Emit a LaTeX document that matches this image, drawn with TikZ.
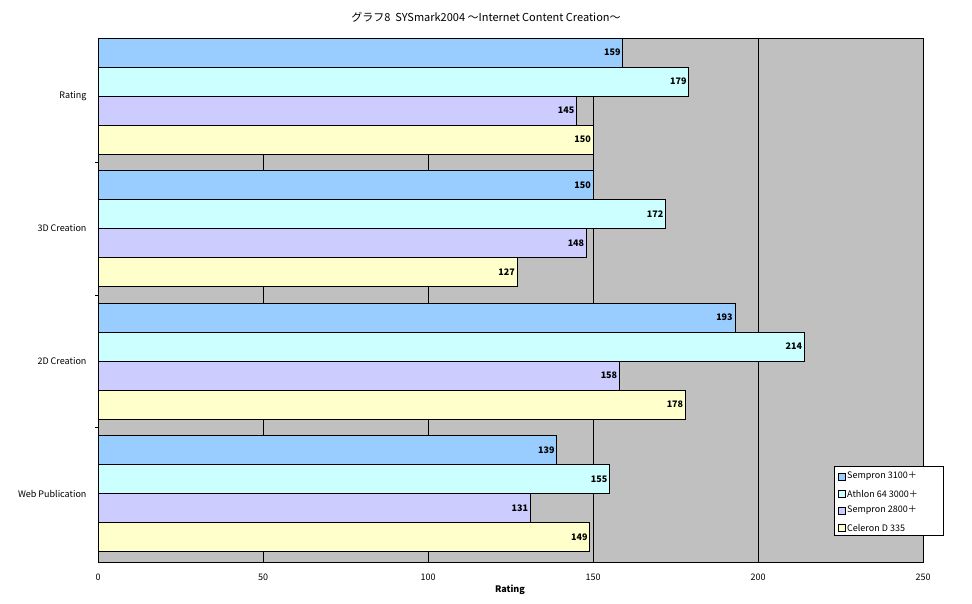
\documentclass[tikz,border=0pt]{standalone}
\usepackage{fontspec}
\setmainfont{Noto Sans CJK JP}
\usetikzlibrary{positioning}
\definecolor{cA}{HTML}{99CCFF}
\definecolor{cB}{HTML}{CCFFFF}
\definecolor{cC}{HTML}{CCCCFF}
\definecolor{cD}{HTML}{FFFFCC}
\definecolor{plotbg}{HTML}{C0C0C0}
\tikzset{
  bar/.style={draw=black, line width=0.6pt},
  val/.style={font=\fontsize{9}{10}\selectfont\bfseries, anchor=east, inner sep=2pt},
  cat/.style={font=\fontsize{9}{10}\selectfont, anchor=east},
  tick/.style={font=\fontsize{9}{10}\selectfont, anchor=north},
  key/.style={font=\fontsize{9}{10}\selectfont, anchor=west, inner sep=1pt}
}
\begin{document}
\begin{tikzpicture}[x=1pt,y=-1pt]
	\useasboundingbox[fill=white] (0,0) rectangle (972,604);

	\fill[plotbg] (98,38) rectangle (923,562);
	\foreach \v in {50,100,150,200}
		\draw[line width=0.8pt] (98+3.3*\v,38) -- (98+3.3*\v,562);
	\draw (98,38) rectangle (923,562);

	\node[font=\fontsize{11}{13}\selectfont] (title) at (486,17) {グラフ8\ \ SYSmark2004 〜Internet Content Creation〜};

	% bars
	\foreach \g/\name/\a/\b/\c/\d in {0/Rating/159/179/145/150, 1/3D Creation/150/172/148/127,
		2/2D Creation/193/214/158/178, 3/Web Publication/139/155/131/149} {
		\pgfmathsetmacro{\top}{38+132.5*\g}
		\foreach \k/\v/\col in {0/\a/cA, 1/\b/cB, 2/\c/cC, 3/\d/cD} {
			\draw[bar, fill=\col] (98,\top+29*\k) rectangle (98+3.3*\v,\top+29*\k+29);
			\node[val] at (98+3.3*\v,\top+29*\k+14.5) {\v};
		}
		\node[cat] (cat\g) at (90,\top+58) {\name};
	}
	\foreach \g in {1,2,3}
		\draw (95,38+132.5*\g-8) -- (98,38+132.5*\g-8);

	% axis
	\foreach \v in {0,50,...,250}
		\node[tick] at (98+3.3*\v,570) {\v};
	\node[font=\fontsize{9}{10}\selectfont\bfseries] (xlabel) at (510,590) {Rating};

	% legend
	\draw[fill=white] (834,466) rectangle (943,535);
	\foreach \k/\txt/\col in {0/Sempron 3100＋/cA, 1/Athlon 64 3000＋/cB, 2/Sempron 2800＋/cC, 3/Celeron D 335/cD} {
		\draw[fill=\col] (838,473+17*\k) rectangle (845,480+17*\k);
		\node[key] (key\k) at (846,476.5+17*\k) {\txt};
	}
\end{tikzpicture}
\end{document}
